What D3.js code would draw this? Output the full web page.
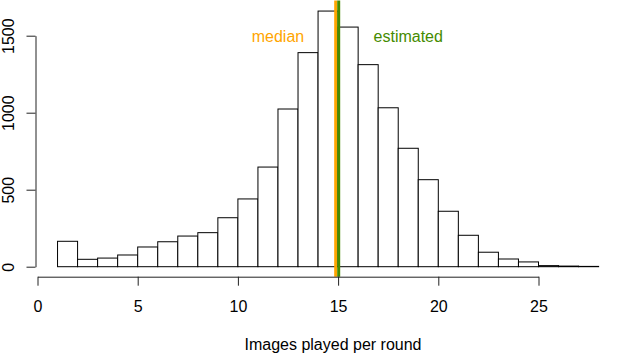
<!DOCTYPE html>
<html>
<head>
<meta charset="utf-8">
<script src="https://cdn.jsdelivr.net/npm/d3@7"></script>
<style>
  body { margin: 0; background: #fff; }
  text { font-family: "Liberation Sans", Arial, sans-serif; }
</style>
</head>
<body>
<div id="chart"></div>
<script>

// Histogram bins (left edge of each bin, width 1) and their counts
var binStarts = [1, 2, 3, 4, 5, 6, 7, 8, 9, 10, 11, 12, 13, 14,
                 15, 16, 17, 18, 19, 20, 21, 22, 23, 24, 25, 26, 27];
var counts = [165, 48, 56, 76, 128, 162, 199, 221, 318, 440, 647, 1024, 1390, 1660,
              1556, 1312, 1032, 769, 565, 360, 204, 94, 50, 31, 7, 4, 2];
var binWidth = 1;

// Reference lines
var markers = [
  { name: 'median',    value: 14.88, labelAt: 12,   color: '#FFA500' },
  { name: 'estimated', value: 15.03, labelAt: 18.5, color: '#458B00' }
];

// Axis ticks
var xTicks = [0, 5, 10, 15, 20, 25];
var yTicks = [0, 500, 1000, 1500];
var xLabel = 'Images played per round';

// Size of the page
var width = 623,
    height = 355;

// x maps the bin edges along the x axis, y maps the counts
var x = d3.scaleLinear().domain([0, 25]).range([37.5, 538.5]);
var y = d3.scaleLinear().domain([0, 1500]).range([266.7, 35.7]);

// plot region top / bottom (where the reference lines end)
var plotTop = 0.5,
    plotBottom = 276.7;

var svg = d3.select('#chart')
            .append('svg')
            .attr('width', width)
            .attr('height', height);

// Draw the bars
svg.selectAll('.bar')
   .data(counts)
   .enter().append('rect')
   .attr('class', 'bar')
   .attr('x', function(d, i) { return x(binStarts[i]); })
   .attr('y', function(d) { return y(d); })
   .attr('width', function(d, i) { return x(binStarts[i] + binWidth) - x(binStarts[i]); })
   .attr('height', function(d) { return y(0) - y(d); })
   .attr('fill', '#fff')
   .attr('stroke', '#000')
   .attr('stroke-width', 1);

// Draw median / estimated lines
svg.selectAll('.marker')
   .data(markers)
   .enter().append('line')
   .attr('class', 'marker')
   .attr('x1', function(d) { return x(d.value); })
   .attr('x2', function(d) { return x(d.value); })
   .attr('y1', plotTop)
   .attr('y2', plotBottom)
   .attr('stroke', function(d) { return d.color; })
   .attr('stroke-width', 3);

// Labels of the lines
svg.selectAll('.marker-label')
   .data(markers)
   .enter().append('text')
   .attr('class', 'marker-label')
   .attr('x', function(d) { return x(d.labelAt); })
   .attr('y', y(1500))
   .attr('dy', '0.4em')
   .style('text-anchor', 'middle')
   .style('font-size', '16px')
   .attr('fill', function(d) { return d.color; })
   .text(function(d) { return d.name; });

// Append x axis
var xAxis = svg.append('g')
    .attr('class', 'x axis')
    .attr('transform', 'translate(0,' + plotBottom + ')')
    .call(d3.axisBottom(x)
      .tickValues(xTicks)
      .tickSize(9)
      .tickSizeOuter(0)
      .tickPadding(15)
      .tickFormat(d3.format('d')));
xAxis.selectAll('text').style('font-size', '16px').attr('fill', '#000');
xAxis.selectAll('path, line').attr('stroke', '#222');

// Append y axis
var yAxis = svg.append('g')
    .attr('class', 'y axis')
    .attr('transform', 'translate(35.5,0)')
    .call(d3.axisLeft(y)
      .tickValues(yTicks)
      .tickSize(9)
      .tickSizeOuter(0)
      .tickFormat(d3.format('d')));
yAxis.selectAll('text')
     .attr('transform', 'rotate(-90)')
     .attr('x', 0)
     .attr('y', -22)
     .attr('dy', 0)
     .style('text-anchor', 'middle')
     .style('font-size', '16px')
     .attr('fill', '#000');
yAxis.selectAll('path, line').attr('stroke', '#222');

// text label for the x axis
svg.append('text')
   .attr('x', 333)
   .attr('y', 350)
   .style('text-anchor', 'middle')
   .style('font-size', '16px')
   .text(xLabel);

</script>
</body>
</html>
